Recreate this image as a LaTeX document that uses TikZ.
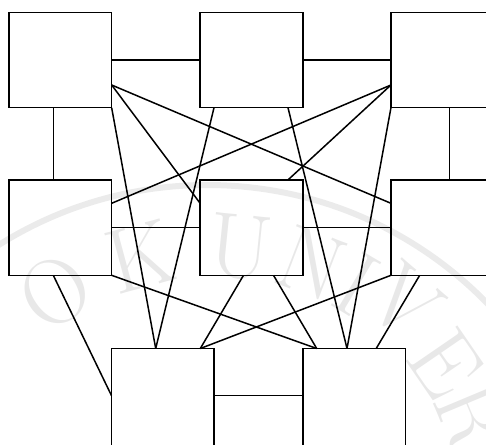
\documentclass[tikz,border=0pt]{standalone}
\usetikzlibrary{calc}
\begin{document}
\begin{tikzpicture}[x=1pt,y=-1pt,
  box/.style={draw=black, line width=1.5pt, minimum width=102.7pt, minimum height=95.4pt, inner sep=0pt, outer sep=0pt},
  lowbox/.style={box, minimum height=98pt},
  link/.style={draw=black, line width=1.5pt},
  wm/.style={text=black!9, font=\fontsize{92}{92}\selectfont, inner sep=0pt},
  wmline/.style={draw=black!8, line width=6pt}]
\useasboundingbox (0,0) rectangle (486,444);
\clip (0,0) rectangle (486,444);
% faint watermark
\draw[wmline] (207,576) circle[radius=391pt];
\node[wm, rotate=34.2]  (wO) at (55,292)  {O};
\node[wm, rotate=15]    (wK) at (140,257) {K};
\node[wm, rotate=-5.8]  (wU) at (240,247) {U};
\node[wm, rotate=-21]   (wN) at (312,264) {N};
\node[wm, rotate=-30.7] (wI) at (357,284) {I};
\node[wm, rotate=-40.9] (wV) at (405,302) {V};
\node[wm, rotate=-55.5] (wE) at (446,364) {E};
\node[wm, rotate=-67.3] (wR) at (472,417) {R};
% boxes
\node[box] (TL) at (60.3,60) {};
\node[box] (TM) at (251.5,60) {};
\node[box] (TR) at (442.3,60) {};
\node[box] (ML) at (60.3,227.6) {};
\node[box] (MM) at (251.5,227.6) {};
\node[box] (MR) at (442.3,227.6) {};
\node[lowbox] (BL) at (162.8,397.5) {};
\node[lowbox] (BR) at (354.2,397.5) {};
% connectors
\draw[link] (TL.east) -- (TM.west);
\draw[link] (TM.east) -- (TR.west);
\draw[link] ($(TL.south)+(-7,0)$) -- ($(ML.north)+(-7,0)$);
\draw[link] ($(TR.south)+(7.4,0)$) -- ($(MR.north)+(7.4,0)$);
\draw[link] (ML.east) -- (MM.west);
\draw[link] (MM.east) -- (MR.west);
\draw[link] ($(BL.east)+(0,-1.8)$) -- ($(BR.west)+(0,-1.8)$);
\draw[link] ($(TL.east)+(0,25)$) -- ($(MR.west)+(0,-24.3)$);
\draw[link] ($(TL.east)+(0,25)$) -- ($(MM.west)+(0,-24.3)$);
\draw[link] ($(TR.west)+(0,25)$) -- ($(ML.east)+(0,-24.3)$);
\draw[link] ($(TR.west)+(0,25)$) -- ($(MM.north)+(36.5,0)$);
\draw[link] (TL.south east) -- ($(BL.north)+(-7.1,0)$);
\draw[link] ($(TM.south)+(-37.5,0)$) -- ($(BL.north)+(-7.1,0)$);
\draw[link] ($(TM.south)+(36.5,0)$) -- ($(BR.north)+(-7.2,0)$);
\draw[link] (TR.south west) -- ($(BR.north)+(-7.2,0)$);
\draw[link] (ML.south east) -- ($(BR.north)+(-37.5,0)$);
\draw[link] (MR.south west) -- ($(BL.north)+(37.5,0)$);
\draw[link] ($(MM.south)+(-8,0)$) -- ($(BL.north)+(37.5,0)$);
\draw[link] ($(MM.south)+(22,0)$) -- ($(BR.north)+(-37.5,0)$);
\draw[link] ($(ML.south)+(-7,0)$) -- ($(BL.west)+(0,-2)$);
\draw[link] ($(MR.south)+(-22.6,0)$) -- ($(BR.north)+(22,0)$);
\end{tikzpicture}
\end{document}
